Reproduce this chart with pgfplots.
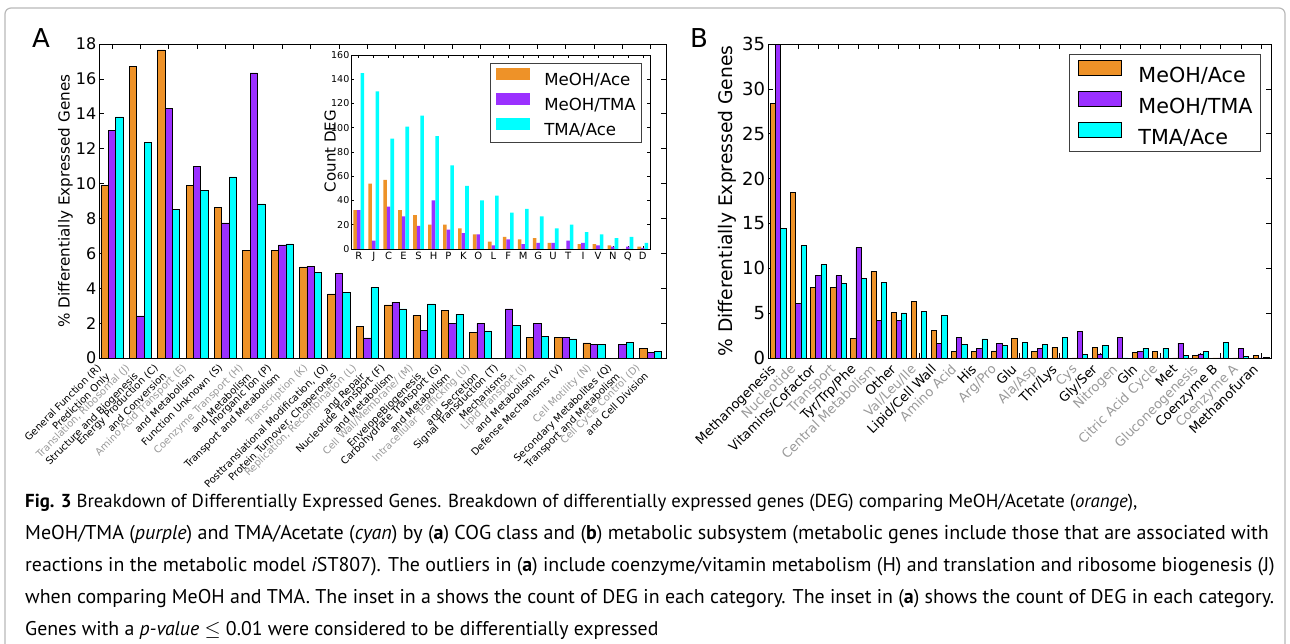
\documentclass[border=0pt]{standalone}
\usepackage{pgfplots}
\usepackage{pgfplotstable}
\pgfplotsset{compat=1.18}
\usepackage{fontspec}
\setmainfont{DejaVu Sans}
\newfontfamily\capfont{PT Sans}
\definecolor{cor}{HTML}{EE9228}
\definecolor{cpu}{HTML}{9B30FF}
\definecolor{ccy}{HTML}{00FFFF}
\definecolor{lgray}{HTML}{999999}

\pgfplotstableread{
i o p c
0 9.90 13.07 13.82
1 16.72 2.41 12.38
2 17.66 14.29 8.54
3 9.90 11.00 9.59
4 8.64 7.74 10.38
5 6.15 16.34 8.83
6 6.15 6.48 6.54
7 5.22 5.27 4.91
8 3.67 4.85 3.76
9 1.80 1.15 4.05
10 3.04 3.21 2.81
11 2.43 1.57 3.10
12 2.73 1.99 2.52
13 1.49 1.99 1.55
14 0 2.81 1.85
15 1.17 1.99 1.26
16 1.17 1.17 1.09
17 0.86 0.76 0.80
18 0 0.76 0.90
19 0.55 0.34 0.40
}\dataA

\pgfplotstableread{
i o p c
0 32 32 145
1 54 7 130
2 57 35 91
3 32 27 101
4 28 19 110
5 20 40 93
6 20 16 69
7 17 13 52
8 12 12 40
9 6 3 44
10 10 8 30
11 8 4 33
12 9 5 27
13 5 5 17
14 0 7 20
15 4 5 14
16 4 3 12
17 3 2 9
18 0 2 10
19 2 1 5
}\dataInset

\pgfplotstableread{
i o p c
0 28.35 34.93 14.49
1 18.50 6.06 12.52
2 7.84 9.18 10.40
3 7.84 9.18 8.29
4 2.16 12.30 8.88
5 9.62 4.16 8.44
6 5.05 4.16 5.02
7 6.32 0 5.20
8 3.12 1.67 4.79
9 0.74 2.34 1.56
10 0.74 1.04 2.12
11 0.80 1.67 1.37
12 2.16 0 1.75
13 0.74 1.11 1.56
14 1.19 0 2.34
15 0 2.97 0.37
16 1.19 0.45 1.37
17 0 2.34 0
18 0.63 0.74 1.11
19 0.74 0 1.11
20 0 1.67 0.26
21 0.30 0.45 0.74
22 0 0 1.75
23 0 1.04 0.19
24 0.30 0 0.11
}\dataB

\pgfplotsset{
  insetleg/.style={legend image code/.code={\fill[##1] (0pt,0pt) rectangle (34pt,12pt);}},
  bleg/.style={legend image code/.code={\filldraw[##1] (0pt,0pt) rectangle (43pt,15pt);}},
  common/.style={
    anchor=south west, scale only axis, ybar,
    tick align=inside, tick pos=both,
    every tick/.style={black, line width=0.6pt},
    axis line style={line width=0.8pt},
    /pgf/number format/assume math mode=true,
  },
}

\begin{document}
\begin{tikzpicture}[x=1pt,y=1pt]
\path[use as bounding box] (0,0) rectangle (1290,643);
\draw[gray!55, line width=1.2pt, rounded corners=6pt] (5,-20) -- (5,635) -- (1285,635) -- (1285,-20);
\begin{scope}
\clip (0,153) rectangle (1290,643);
\node[font=\fontsize{26}{30}\selectfont] at (41,605) {A};
\node[font=\fontsize{26}{30}\selectfont] at (699,605) {B};

% ---------------- Panel A ----------------
\begin{axis}[common,
  at={(99pt,285pt)}, width=567pt, height=314pt,
  xmin=-0.46, xmax=19.54, ymin=0, ymax=18,
  xtick={0,...,19}, ytick={0,2,...,18},
  major tick length=5pt,
  yticklabel style={font=\fontsize{16}{19}\selectfont, inner sep=0pt, xshift=-2.5pt},
  ylabel={\% Differentially Expressed Genes},
  ylabel style={at={(axis description cs:-0.059,0.5)}, anchor=center, font=\fontsize{15.2}{18}\selectfont},
  xticklabels={
    {General Function (R)\\Prediction Only},
    {\color{lgray}Translation, Ribosomal (J)\\Structure and Biogenesis},
    {Energy Production (C)\\and Conversion},
    {\color{lgray}Amino Acid Transport (E)\\and Metabolism},
    {Function Unknown (S)},
    {\color{lgray}Coenzyme Transport (H)\\and Metabolism},
    {Inorganic Ion (P)\\Transport and Metabolism},
    {\color{lgray}Transcription (K)},
    {Posttranslational Modification, (O)\\Protein Turnover, Chaperones},
    {\color{lgray}Replication, Recombination (L)\\and Repair},
    {Nucleotide Transport (F)\\and Metabolism},
    {\color{lgray}Cell Wall/Membrane/ (M)\\EnvelopeBiogenesis},
    {Carbohydrate Transport (G)\\and Metabolism},
    {\color{lgray}Intracellular Trafficking (U)\\and Secretion},
    {Signal Transduction (T)\\Mechanisms},
    {\color{lgray}Lipid Transport (I)\\and Metabolism},
    {Defense Mechanisms (V)},
    {\color{lgray}Cell Motility (N)},
    {Secondary Metabolites (Q)\\Transport and Metabolism},
    {\color{lgray}Cell Cycle Control (D)\\and Cell Division}},
  xticklabel style={
    /utils/exec={\pgfmathparse{{2,2,2,2,1,2,2,1,2,2,2,2,2,2,2,2,1,1,2,2}[\ticknum]}\let\nl\pgfmathresult},
    xshift={-7.8pt*\nl}, yshift=-5pt,
    rotate=45, anchor=north east, align=right, inner sep=0pt,
    font=\fontsize{10}{12}\selectfont},
]
\addplot[fill=cor, draw=black, line width=0.6pt, bar width=0.26, bar shift=-0.26] table[x=i,y=o]{\dataA};
\addplot[fill=cpu, draw=black, line width=0.6pt, bar width=0.26, bar shift=0] table[x=i,y=p]{\dataA};
\addplot[fill=ccy, draw=black, line width=0.6pt, bar width=0.26, bar shift=0.26] table[x=i,y=c]{\dataA};
\end{axis}

% ---------------- Inset ----------------
\begin{axis}[common,
  at={(351pt,394pt)}, width=299pt, height=194pt,
  axis background/.style={fill=white},
  xmin=-0.52, xmax=19.48, ymin=0, ymax=160,
  xtick={0,...,19}, ytick={0,20,...,160},
  major tick length=3pt,
  xticklabels={R,J,C,E,S,H,P,K,O,L,F,M,G,U,T,I,V,N,Q,D},
  xticklabel style={font=\fontsize{10}{12}\selectfont, inner sep=0pt, yshift=-3pt},
  yticklabel style={font=\fontsize{9.5}{11}\selectfont, inner sep=0pt, xshift=-1.5pt},
  ylabel={Count DEG},
  ylabel style={at={(axis description cs:-0.07,0.505)}, anchor=center, font=\fontsize{15}{18}\selectfont},
  legend style={at={(0.974,0.959)}, anchor=north east, draw=black!75, line width=0.8pt,
    font=\fontsize{16.6}{20}\selectfont, inner xsep=6pt, inner ysep=5pt,
    row sep=6pt, column sep=14pt, nodes={inner sep=0pt}},
  legend cell align=left,
]
\addplot[fill=cor, draw=none, bar width=0.24, bar shift=-0.24, insetleg] table[x=i,y=o]{\dataInset};
\addplot[fill=cpu, draw=none, bar width=0.24, bar shift=0, insetleg] table[x=i,y=p]{\dataInset};
\addplot[fill=ccy, draw=none, bar width=0.24, bar shift=0.24, insetleg] table[x=i,y=c]{\dataInset};
\legend{MeOH/Ace, MeOH/TMA, TMA/Ace}
\end{axis}

% ---------------- Panel B ----------------
\begin{axis}[common,
  at={(768pt,285pt)}, width=503pt, height=314pt,
  xmin=-0.5, xmax=24.5, ymin=0, ymax=35,
  xtick={0,...,24}, ytick={0,5,...,35},
  major tick length=5pt,
  yticklabel style={font=\fontsize{18}{21}\selectfont, inner sep=0pt, xshift=-2.7pt},
  ylabel={\% Differentially Expressed Genes},
  ylabel style={at={(axis description cs:-0.0805,0.5)}, anchor=center, font=\fontsize{18.7}{22}\selectfont},
  xticklabels={Methanogenesis, {\color{lgray}Nucleotide}, Vitamins/Cofactor, {\color{lgray}Transport},
    Tyr/Trp/Phe, {\color{lgray}Central Metabolism}, Other, {\color{lgray}Val/Leu/Ile},
    Lipid/Cell Wall, {\color{lgray}Amino Acid}, His, {\color{lgray}Arg/Pro}, Glu,
    {\color{lgray}Ala/Asp}, Thr/Lys, {\color{lgray}Cys}, Gly/Ser, {\color{lgray}Nitrogen},
    Gln, {\color{lgray}Citric Acid Cycle}, Met, {\color{lgray}Gluconeogenesis},
    Coenzyme B, {\color{lgray}Coenzyme A}, Methanofuran},
  xticklabel style={xshift=-9pt, yshift=-5pt, rotate=45, anchor=north east, inner sep=0pt,
    font=\fontsize{13}{15.6}\selectfont},
  legend style={at={(0.980,0.968)}, anchor=north east, draw=black!75, line width=0.8pt,
    font=\fontsize{20.7}{24}\selectfont, inner xsep=8pt, inner ysep=6pt,
    row sep=7pt, column sep=17pt, nodes={inner sep=0pt}},
  legend cell align=left,
]
\addplot[fill=cor, draw=black, line width=0.6pt, bar width=0.26, bar shift=-0.26, bleg] table[x=i,y=o]{\dataB};
\addplot[fill=cpu, draw=black, line width=0.6pt, bar width=0.26, bar shift=0, bleg] table[x=i,y=p]{\dataB};
\addplot[fill=ccy, draw=black, line width=0.6pt, bar width=0.26, bar shift=0.26, bleg] table[x=i,y=c]{\dataB};
\legend{MeOH/Ace, MeOH/TMA, TMA/Ace}
\end{axis}
\end{scope}

% ---------------- Caption ----------------
\begin{scope}[every node/.style={anchor=base west, inner sep=0pt}]
\node[font=\capfont\fontsize{18.8}{23}\selectfont] at (25,136) {\textbf{Fig. 3} Breakdown of Differentially Expressed Genes. Breakdown of differentially expressed genes (DEG) comparing MeOH/Acetate (\textit{orange}),};
\node[font=\capfont\fontsize{20}{24}\selectfont] at (25,104) {MeOH/TMA (\textit{purple}) and TMA/Acetate (\textit{cyan}) by (\textbf{a}) COG class and (\textbf{b}) metabolic subsystem (metabolic genes include those that are associated with};
\node[font=\capfont\fontsize{19.9}{24}\selectfont] at (25,72) {reactions in the metabolic model \textit{i}ST807). The outliers in (\textbf{a}) include coenzyme/vitamin metabolism (H) and translation and ribosome biogenesis (J)};
\node[font=\capfont\fontsize{19.9}{24}\selectfont] at (25,40) {when comparing MeOH and TMA. The inset in a shows the count of DEG in each category. The inset in (\textbf{a}) shows the count of DEG in each category.};
\node[font=\capfont\fontsize{19.8}{24}\selectfont] at (25,8) {Genes with a \textit{p-value} $\leq$ 0.01 were considered to be differentially expressed};
\end{scope}
\end{tikzpicture}
\end{document}
